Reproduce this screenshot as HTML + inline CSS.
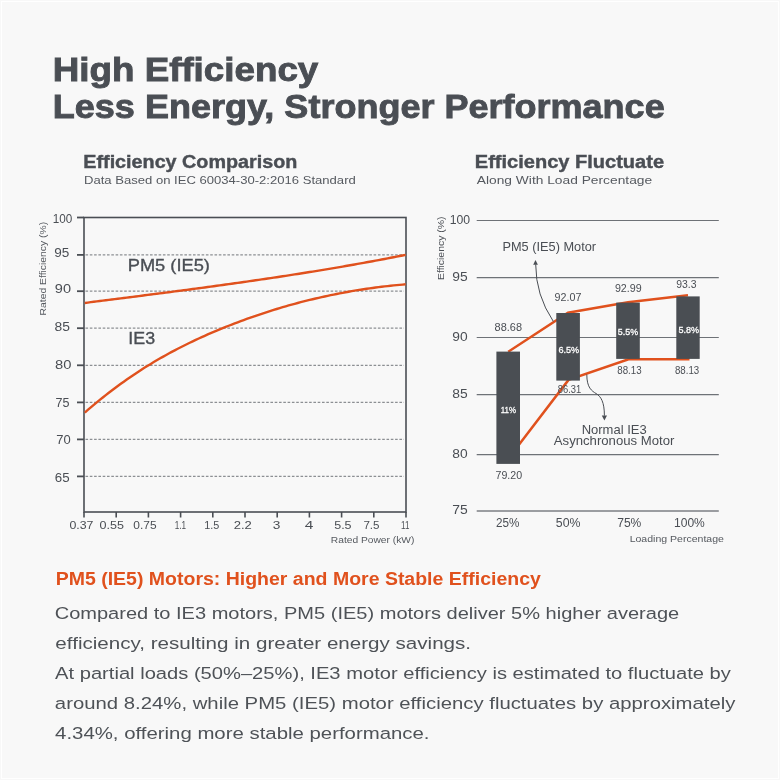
<!DOCTYPE html>
<html><head><meta charset="utf-8"><style>
html,body{margin:0;padding:0;background:#f8f8f8;}
body{width:780px;height:780px;overflow:hidden;position:relative;}
svg{position:absolute;left:0;top:0;font-family:"Liberation Sans",sans-serif;will-change:transform;}
</style></head><body>
<svg width="780" height="780" viewBox="0 0 780 780">
<rect x="0" y="0" width="780" height="780" fill="#f8f8f8"/>
<rect x="1.5" y="1.5" width="777" height="777" fill="none" stroke="#ffffff" stroke-width="1"/>
<text x="52.76" y="80.80" font-size="33.6" font-weight="700" fill="#4a4e54" textLength="265.53" lengthAdjust="spacingAndGlyphs" stroke="#4a4e54" stroke-width="0.9">High Efficiency</text>
<text x="52.81" y="118.30" font-size="33.6" font-weight="700" fill="#4a4e54" textLength="611.90" lengthAdjust="spacingAndGlyphs" stroke="#4a4e54" stroke-width="0.9">Less Energy, Stronger Performance</text>
<text x="83.32" y="168.00" font-size="18" font-weight="700" fill="#4a4e54" textLength="213.99" lengthAdjust="spacingAndGlyphs" stroke="#4a4e54" stroke-width="0.4">Efficiency Comparison</text>
<text x="83.95" y="183.70" font-size="11.6" font-weight="400" fill="#55595f" textLength="271.84" lengthAdjust="spacingAndGlyphs">Data Based on IEC 60034-30-2:2016 Standard</text>
<text x="474.80" y="167.80" font-size="18" font-weight="700" fill="#4a4e54" textLength="189.25" lengthAdjust="spacingAndGlyphs" stroke="#4a4e54" stroke-width="0.4">Efficiency Fluctuate</text>
<text x="476.80" y="183.80" font-size="11.6" font-weight="400" fill="#55595f" textLength="175.33" lengthAdjust="spacingAndGlyphs">Along With Load Percentage</text>
<line x1="85.5" y1="254.9" x2="404" y2="254.9" stroke="#8c8f93" stroke-width="1.3" stroke-dasharray="2.6 1.7"/>
<line x1="85.5" y1="291.2" x2="404" y2="291.2" stroke="#8c8f93" stroke-width="1.3" stroke-dasharray="2.6 1.7"/>
<line x1="85.5" y1="328.2" x2="404" y2="328.2" stroke="#8c8f93" stroke-width="1.3" stroke-dasharray="2.6 1.7"/>
<line x1="85.5" y1="365.3" x2="404" y2="365.3" stroke="#8c8f93" stroke-width="1.3" stroke-dasharray="2.6 1.7"/>
<line x1="85.5" y1="402.4" x2="404" y2="402.4" stroke="#8c8f93" stroke-width="1.3" stroke-dasharray="2.6 1.7"/>
<line x1="85.5" y1="439.4" x2="404" y2="439.4" stroke="#8c8f93" stroke-width="1.3" stroke-dasharray="2.6 1.7"/>
<line x1="85.5" y1="476.4" x2="404" y2="476.4" stroke="#8c8f93" stroke-width="1.3" stroke-dasharray="2.6 1.7"/>
<line x1="77" y1="217.5" x2="84" y2="217.5" stroke="#4a4e54" stroke-width="1.8"/>
<line x1="77" y1="254.9" x2="84" y2="254.9" stroke="#4a4e54" stroke-width="1.8"/>
<line x1="77" y1="291.2" x2="84" y2="291.2" stroke="#4a4e54" stroke-width="1.8"/>
<line x1="77" y1="328.2" x2="84" y2="328.2" stroke="#4a4e54" stroke-width="1.8"/>
<line x1="77" y1="365.3" x2="84" y2="365.3" stroke="#4a4e54" stroke-width="1.8"/>
<line x1="77" y1="402.4" x2="84" y2="402.4" stroke="#4a4e54" stroke-width="1.8"/>
<line x1="77" y1="439.4" x2="84" y2="439.4" stroke="#4a4e54" stroke-width="1.8"/>
<line x1="77" y1="476.4" x2="84" y2="476.4" stroke="#4a4e54" stroke-width="1.8"/>
<line x1="84.0" y1="512" x2="84.0" y2="517.5" stroke="#4a4e54" stroke-width="1.6"/>
<line x1="116.2" y1="512" x2="116.2" y2="517.5" stroke="#4a4e54" stroke-width="1.6"/>
<line x1="148.4" y1="512" x2="148.4" y2="517.5" stroke="#4a4e54" stroke-width="1.6"/>
<line x1="180.6" y1="512" x2="180.6" y2="517.5" stroke="#4a4e54" stroke-width="1.6"/>
<line x1="212.8" y1="512" x2="212.8" y2="517.5" stroke="#4a4e54" stroke-width="1.6"/>
<line x1="245.0" y1="512" x2="245.0" y2="517.5" stroke="#4a4e54" stroke-width="1.6"/>
<line x1="277.2" y1="512" x2="277.2" y2="517.5" stroke="#4a4e54" stroke-width="1.6"/>
<line x1="309.4" y1="512" x2="309.4" y2="517.5" stroke="#4a4e54" stroke-width="1.6"/>
<line x1="341.6" y1="512" x2="341.6" y2="517.5" stroke="#4a4e54" stroke-width="1.6"/>
<line x1="373.8" y1="512" x2="373.8" y2="517.5" stroke="#4a4e54" stroke-width="1.6"/>
<line x1="406.0" y1="512" x2="406.0" y2="517.5" stroke="#4a4e54" stroke-width="1.6"/>
<rect x="84" y="217.5" width="322" height="294.5" fill="none" stroke="#4a4e54" stroke-width="1.6"/>
<path d="M84.80,302.95 L87.80,302.57 L90.80,302.18 L93.79,301.80 L96.79,301.42 L99.79,301.04 L102.79,300.66 L105.79,300.28 L108.79,299.90 L111.78,299.52 L114.78,299.14 L117.78,298.76 L120.78,298.38 L123.78,297.99 L126.77,297.61 L129.77,297.23 L132.77,296.85 L135.77,296.46 L138.77,296.08 L141.76,295.70 L144.76,295.31 L147.76,294.93 L150.76,294.54 L153.76,294.15 L156.76,293.77 L159.75,293.38 L162.75,292.99 L165.75,292.60 L168.75,292.21 L171.75,291.82 L174.74,291.43 L177.74,291.03 L180.74,290.64 L183.74,290.24 L186.74,289.85 L189.73,289.45 L192.73,289.05 L195.73,288.65 L198.73,288.25 L201.73,287.84 L204.73,287.44 L207.72,287.03 L210.72,286.63 L213.72,286.22 L216.72,285.81 L219.72,285.39 L222.71,284.98 L225.71,284.56 L228.71,284.15 L231.71,283.73 L234.71,283.31 L237.70,282.88 L240.70,282.46 L243.70,282.03 L246.70,281.60 L249.70,281.17 L252.70,280.74 L255.69,280.30 L258.69,279.87 L261.69,279.43 L264.69,278.98 L267.69,278.54 L270.68,278.09 L273.68,277.64 L276.68,277.19 L279.68,276.74 L282.68,276.28 L285.67,275.82 L288.67,275.36 L291.67,274.90 L294.67,274.43 L297.67,273.96 L300.67,273.49 L303.66,273.01 L306.66,272.54 L309.66,272.05 L312.66,271.57 L315.66,271.08 L318.65,270.59 L321.65,270.10 L324.65,269.60 L327.65,269.10 L330.65,268.60 L333.64,268.10 L336.64,267.59 L339.64,267.07 L342.64,266.56 L345.64,266.04 L348.64,265.51 L351.63,264.99 L354.63,264.46 L357.63,263.92 L360.63,263.39 L363.63,262.85 L366.62,262.30 L369.62,261.75 L372.62,261.20 L375.62,260.64 L378.62,260.08 L381.61,259.52 L384.61,258.95 L387.61,258.38 L390.61,257.80 L393.61,257.22 L396.61,256.64 L399.60,256.05 L402.60,255.46 L405.60,254.86" fill="none" stroke="#e0511d" stroke-width="2.4" stroke-linejoin="round"/>
<path d="M84.80,412.57 L87.80,409.96 L90.80,407.39 L93.79,404.85 L96.79,402.36 L99.79,399.91 L102.79,397.50 L105.79,395.12 L108.79,392.79 L111.78,390.49 L114.78,388.23 L117.78,386.00 L120.78,383.82 L123.78,381.67 L126.77,379.55 L129.77,377.47 L132.77,375.43 L135.77,373.42 L138.77,371.45 L141.76,369.51 L144.76,367.60 L147.76,365.73 L150.76,363.90 L153.76,362.09 L156.76,360.32 L159.75,358.58 L162.75,356.87 L165.75,355.18 L168.75,353.53 L171.75,351.91 L174.74,350.32 L177.74,348.75 L180.74,347.21 L183.74,345.70 L186.74,344.21 L189.73,342.75 L192.73,341.31 L195.73,339.90 L198.73,338.51 L201.73,337.14 L204.73,335.80 L207.72,334.47 L210.72,333.17 L213.72,331.89 L216.72,330.62 L219.72,329.38 L222.71,328.15 L225.71,326.94 L228.71,325.75 L231.71,324.58 L234.71,323.42 L237.70,322.28 L240.70,321.16 L243.70,320.05 L246.70,318.96 L249.70,317.89 L252.70,316.83 L255.69,315.80 L258.69,314.77 L261.69,313.77 L264.69,312.78 L267.69,311.81 L270.68,310.86 L273.68,309.92 L276.68,309.00 L279.68,308.09 L282.68,307.20 L285.67,306.33 L288.67,305.47 L291.67,304.63 L294.67,303.81 L297.67,303.00 L300.67,302.21 L303.66,301.44 L306.66,300.68 L309.66,299.94 L312.66,299.21 L315.66,298.50 L318.65,297.80 L321.65,297.12 L324.65,296.46 L327.65,295.81 L330.65,295.18 L333.64,294.56 L336.64,293.96 L339.64,293.38 L342.64,292.81 L345.64,292.25 L348.64,291.71 L351.63,291.19 L354.63,290.68 L357.63,290.18 L360.63,289.71 L363.63,289.24 L366.62,288.79 L369.62,288.36 L372.62,287.94 L375.62,287.54 L378.62,287.15 L381.61,286.78 L384.61,286.42 L387.61,286.08 L390.61,285.75 L393.61,285.43 L396.61,285.13 L399.60,284.85 L402.60,284.58 L405.60,284.32" fill="none" stroke="#e0511d" stroke-width="2.4" stroke-linejoin="round"/>
<text x="52.82" y="222.90" font-size="12.3" font-weight="400" fill="#4a4e54" textLength="19.53" lengthAdjust="spacingAndGlyphs">100</text>
<text x="54.19" y="257.10" font-size="12.3" font-weight="400" fill="#4a4e54" textLength="15.08" lengthAdjust="spacingAndGlyphs">95</text>
<text x="54.84" y="293.10" font-size="12.3" font-weight="400" fill="#4a4e54" textLength="16.20" lengthAdjust="spacingAndGlyphs">90</text>
<text x="54.58" y="330.90" font-size="12.3" font-weight="400" fill="#4a4e54" textLength="15.41" lengthAdjust="spacingAndGlyphs">85</text>
<text x="55.14" y="369.00" font-size="12.3" font-weight="400" fill="#4a4e54" textLength="16.42" lengthAdjust="spacingAndGlyphs">80</text>
<text x="55.57" y="407.30" font-size="12.3" font-weight="400" fill="#4a4e54" textLength="13.96" lengthAdjust="spacingAndGlyphs">75</text>
<text x="56.35" y="443.80" font-size="12.3" font-weight="400" fill="#4a4e54" textLength="14.43" lengthAdjust="spacingAndGlyphs">70</text>
<text x="54.73" y="482.30" font-size="12.3" font-weight="400" fill="#4a4e54" textLength="14.83" lengthAdjust="spacingAndGlyphs">65</text>
<text x="69.41" y="528.80" font-size="11.8" font-weight="400" fill="#4a4e54" textLength="24.03" lengthAdjust="spacingAndGlyphs">0.37</text>
<text x="99.60" y="528.80" font-size="11.8" font-weight="400" fill="#4a4e54" textLength="24.42" lengthAdjust="spacingAndGlyphs">0.55</text>
<text x="133.32" y="528.80" font-size="11.8" font-weight="400" fill="#4a4e54" textLength="23.27" lengthAdjust="spacingAndGlyphs">0.75</text>
<text x="174.79" y="528.80" font-size="11.8" font-weight="400" fill="#4a4e54" textLength="11.38" lengthAdjust="spacingAndGlyphs">1.1</text>
<text x="204.19" y="528.80" font-size="11.8" font-weight="400" fill="#4a4e54" textLength="15.05" lengthAdjust="spacingAndGlyphs">1.5</text>
<text x="233.75" y="528.80" font-size="11.8" font-weight="400" fill="#4a4e54" textLength="18.10" lengthAdjust="spacingAndGlyphs">2.2</text>
<text x="272.85" y="528.80" font-size="11.8" font-weight="400" fill="#4a4e54" textLength="7.61" lengthAdjust="spacingAndGlyphs">3</text>
<text x="304.69" y="528.80" font-size="11.8" font-weight="400" fill="#4a4e54" textLength="8.59" lengthAdjust="spacingAndGlyphs">4</text>
<text x="334.20" y="528.80" font-size="11.8" font-weight="400" fill="#4a4e54" textLength="17.40" lengthAdjust="spacingAndGlyphs">5.5</text>
<text x="363.42" y="528.80" font-size="11.8" font-weight="400" fill="#4a4e54" textLength="16.15" lengthAdjust="spacingAndGlyphs">7.5</text>
<text x="401.10" y="528.80" font-size="11.8" font-weight="400" fill="#4a4e54" textLength="8.28" lengthAdjust="spacingAndGlyphs">11</text>
<text x="330.88" y="542.80" font-size="8.9" font-weight="400" fill="#55595f" textLength="83.47" lengthAdjust="spacingAndGlyphs">Rated Power (kW)</text>
<text transform="translate(45.80,314.60) rotate(-90)" x="-0.83" y="0" font-size="8.9" font-weight="400" fill="#55595f" textLength="93.66" lengthAdjust="spacingAndGlyphs">Rated Efficiency (%)</text>
<text x="127.71" y="271.00" font-size="16.7" font-weight="400" fill="#4a4e54" textLength="82.23" lengthAdjust="spacingAndGlyphs" stroke="#4a4e54" stroke-width="0.35">PM5 (IE5)</text>
<text x="128.37" y="344.30" font-size="16.7" font-weight="400" fill="#4a4e54" textLength="26.79" lengthAdjust="spacingAndGlyphs" stroke="#4a4e54" stroke-width="0.35">IE3</text>
<line x1="476.7" y1="220.5" x2="718.8" y2="220.5" stroke="#6e7277" stroke-width="1.2"/>
<line x1="476.7" y1="277.6" x2="718.8" y2="277.6" stroke="#6e7277" stroke-width="1.2"/>
<line x1="476.7" y1="337.5" x2="718.8" y2="337.5" stroke="#6e7277" stroke-width="1.2"/>
<line x1="476.7" y1="394.6" x2="718.8" y2="394.6" stroke="#6e7277" stroke-width="1.2"/>
<line x1="476.7" y1="454.6" x2="718.8" y2="454.6" stroke="#6e7277" stroke-width="1.2"/>
<line x1="476.7" y1="511" x2="718.8" y2="511" stroke="#9b9da1" stroke-width="2"/>
<text x="449.68" y="223.80" font-size="12.3" font-weight="400" fill="#4a4e54" textLength="20.39" lengthAdjust="spacingAndGlyphs">100</text>
<text x="452.38" y="280.90" font-size="12.3" font-weight="400" fill="#4a4e54" textLength="15.41" lengthAdjust="spacingAndGlyphs">95</text>
<text x="452.38" y="340.80" font-size="12.3" font-weight="400" fill="#4a4e54" textLength="15.34" lengthAdjust="spacingAndGlyphs">90</text>
<text x="452.38" y="397.90" font-size="12.3" font-weight="400" fill="#4a4e54" textLength="15.41" lengthAdjust="spacingAndGlyphs">85</text>
<text x="452.38" y="457.90" font-size="12.3" font-weight="400" fill="#4a4e54" textLength="15.34" lengthAdjust="spacingAndGlyphs">80</text>
<text x="452.30" y="514.30" font-size="12.3" font-weight="400" fill="#4a4e54" textLength="15.49" lengthAdjust="spacingAndGlyphs">75</text>
<text transform="translate(444.40,279.20) rotate(-90)" x="-0.83" y="0" font-size="9.2" font-weight="400" fill="#4a4e54" textLength="63.50" lengthAdjust="spacingAndGlyphs">Efficiency (%)</text>
<polyline points="508.2,351.8 568,312.8 628,302.3 688,295.3" fill="none" stroke="#e0511d" stroke-width="2.5"/>
<polyline points="508.2,458.7 568.5,379.9 628.5,359.3 689.5,359.3" fill="none" stroke="#e0511d" stroke-width="2.5"/>
<rect x="496.4" y="351.6" width="23.6" height="112.3" fill="#4a4e53"/>
<rect x="556.3" y="313.0" width="23.6" height="67.6" fill="#4a4e53"/>
<rect x="616.2" y="302.6" width="23.6" height="56.3" fill="#4a4e53"/>
<rect x="676.3" y="296.4" width="23.4" height="62.5" fill="#4a4e53"/>
<text x="500.75" y="412.70" font-size="9.9" font-weight="400" fill="#ffffff" textLength="15.35" lengthAdjust="spacingAndGlyphs" stroke="#ffffff" stroke-width="0.3">11%</text>
<text x="558.39" y="353.30" font-size="9.9" font-weight="400" fill="#ffffff" textLength="20.77" lengthAdjust="spacingAndGlyphs" stroke="#ffffff" stroke-width="0.3">6.5%</text>
<text x="617.79" y="335.10" font-size="9.9" font-weight="400" fill="#ffffff" textLength="20.26" lengthAdjust="spacingAndGlyphs" stroke="#ffffff" stroke-width="0.3">5.5%</text>
<text x="678.49" y="332.90" font-size="9.9" font-weight="400" fill="#ffffff" textLength="20.67" lengthAdjust="spacingAndGlyphs" stroke="#ffffff" stroke-width="0.3">5.8%</text>
<text x="494.61" y="330.80" font-size="10.6" font-weight="400" fill="#4a4e54" textLength="27.36" lengthAdjust="spacingAndGlyphs">88.68</text>
<text x="554.52" y="300.50" font-size="10.6" font-weight="400" fill="#4a4e54" textLength="26.85" lengthAdjust="spacingAndGlyphs">92.07</text>
<text x="614.92" y="291.50" font-size="10.6" font-weight="400" fill="#4a4e54" textLength="26.79" lengthAdjust="spacingAndGlyphs">92.99</text>
<text x="676.23" y="287.60" font-size="10.6" font-weight="400" fill="#4a4e54" textLength="20.30" lengthAdjust="spacingAndGlyphs">93.3</text>
<text x="557.78" y="392.80" font-size="10.6" font-weight="400" fill="#4a4e54" textLength="23.47" lengthAdjust="spacingAndGlyphs">86.31</text>
<text x="617.26" y="373.80" font-size="10.6" font-weight="400" fill="#4a4e54" textLength="24.35" lengthAdjust="spacingAndGlyphs">88.13</text>
<text x="674.96" y="373.80" font-size="10.6" font-weight="400" fill="#4a4e54" textLength="24.25" lengthAdjust="spacingAndGlyphs">88.13</text>
<text x="495.47" y="478.60" font-size="10.6" font-weight="400" fill="#4a4e54" textLength="26.63" lengthAdjust="spacingAndGlyphs">79.20</text>
<text x="496.12" y="527.30" font-size="12.3" font-weight="400" fill="#4a4e54" textLength="23.41" lengthAdjust="spacingAndGlyphs">25%</text>
<text x="555.81" y="527.30" font-size="12.3" font-weight="400" fill="#4a4e54" textLength="24.64" lengthAdjust="spacingAndGlyphs">50%</text>
<text x="617.20" y="527.30" font-size="12.3" font-weight="400" fill="#4a4e54" textLength="24.14" lengthAdjust="spacingAndGlyphs">75%</text>
<text x="674.00" y="527.30" font-size="12.3" font-weight="400" fill="#4a4e54" textLength="30.80" lengthAdjust="spacingAndGlyphs">100%</text>
<text x="629.66" y="541.60" font-size="9" font-weight="400" fill="#55595f" textLength="94.24" lengthAdjust="spacingAndGlyphs">Loading Percentage</text>
<text x="502.48" y="250.80" font-size="12.2" font-weight="400" fill="#4a4e54" textLength="93.58" lengthAdjust="spacingAndGlyphs">PM5 (IE5) Motor</text>
<text x="581.66" y="434.00" font-size="12.2" font-weight="400" fill="#4a4e54" textLength="65.08" lengthAdjust="spacingAndGlyphs">Normal IE3</text>
<text x="553.80" y="445.30" font-size="12.2" font-weight="400" fill="#4a4e54" textLength="120.61" lengthAdjust="spacingAndGlyphs">Asynchronous Motor</text>
<path d="M553.3,321.4 Q535.7,295 535.7,264.4" fill="none" stroke="#4a4e54" stroke-width="1"/>
<path d="M535.5,260.1 L533.2,264.8 L537.9,264.8 Z" fill="#4a4e54"/>
<path d="M586.8,374.5 C586.8,388 592,391 596,393.5 C601,396.5 604.4,402 604.4,415.7" fill="none" stroke="#4a4e54" stroke-width="1"/>
<path d="M601.8,415.4 L607.0,415.4 L604.4,420.4 Z" fill="#4a4e54"/>
<text x="55.73" y="584.90" font-size="17.5" font-weight="700" fill="#e0511d" textLength="485.14" lengthAdjust="spacingAndGlyphs">PM5 (IE5) Motors: Higher and More Stable Efficiency</text>
<text x="54.70" y="619.30" font-size="17.2" font-weight="400" fill="#4e5257" textLength="624.52" lengthAdjust="spacingAndGlyphs">Compared to IE3 motors, PM5 (IE5) motors deliver 5% higher average</text>
<text x="55.38" y="649.40" font-size="17.2" font-weight="400" fill="#4e5257" textLength="415.70" lengthAdjust="spacingAndGlyphs">efficiency, resulting in greater energy savings.</text>
<text x="55.10" y="679.30" font-size="17.2" font-weight="400" fill="#4e5257" textLength="675.78" lengthAdjust="spacingAndGlyphs">At partial loads (50%–25%), IE3 motor efficiency is estimated to fluctuate by</text>
<text x="54.89" y="709.00" font-size="17.2" font-weight="400" fill="#4e5257" textLength="680.58" lengthAdjust="spacingAndGlyphs">around 8.24%, while PM5 (IE5) motor efficiency fluctuates by approximately</text>
<text x="55.09" y="738.80" font-size="17.2" font-weight="400" fill="#4e5257" textLength="374.46" lengthAdjust="spacingAndGlyphs">4.34%, offering more stable performance.</text>
</svg>
</body></html>
